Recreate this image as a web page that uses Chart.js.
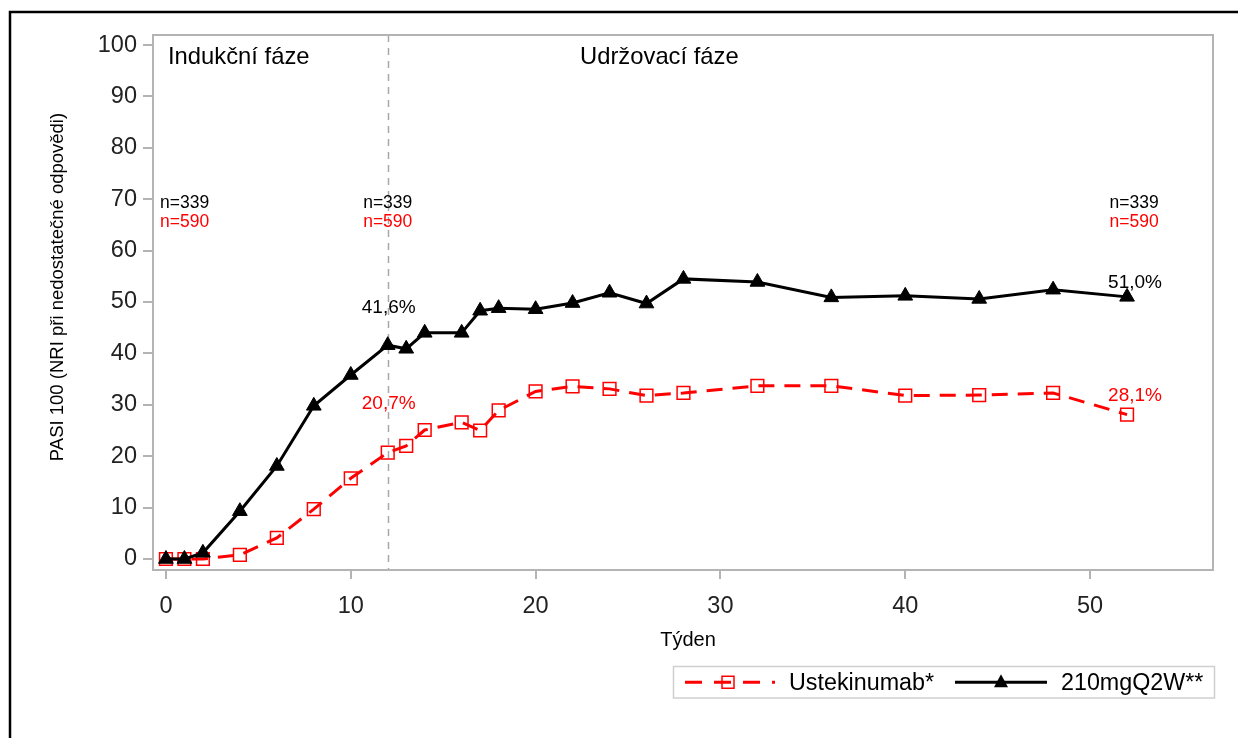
<!DOCTYPE html>
<html>
<head>
<meta charset="utf-8">
<script src="https://cdn.jsdelivr.net/npm/chart.js@4"></script>
<style>
  html, body { margin: 0; padding: 0; background: #fff; }
  canvas { display: block; }
</style>
</head>
<body>
<canvas id="c" width="1238" height="738"></canvas>
<script>
// ---- data ----
const weeks = [0, 1, 2, 4, 6, 8, 10, 12, 13, 14, 16, 17, 18, 20, 22, 24, 26, 28, 32, 36, 40, 44, 48, 52];
const bimekizumab = [0, 0, 1.2, 9.3, 18.1, 29.8, 35.8, 41.6, 40.9, 44.0, 44.0, 48.3, 48.8, 48.6, 49.8, 51.8, 49.7, 54.5, 53.9, 50.9, 51.2, 50.6, 52.4, 51.0];
const ustekinumab = [0, 0, 0, 0.8, 4.1, 9.7, 15.7, 20.7, 22.0, 25.1, 26.6, 25.0, 28.9, 32.6, 33.6, 33.1, 31.8, 32.3, 33.7, 33.7, 31.8, 31.9, 32.3, 28.1];
const seriesNames = ['Ustekinumab*', '210mgQ2W**'];
const yTicks = [0, 10, 20, 30, 40, 50, 60, 70, 80, 90, 100];
const xTicks = [0, 10, 20, 30, 40, 50];
const phaseLabels = ['Indukční fáze', 'Udržovací fáze'];
const phaseBoundaryWeek = 12;
const nWeeks = [0, 12, 52];
const nBimek = ['n=339', 'n=339', 'n=339'];
const nUstek = ['n=590', 'n=590', 'n=590'];
const pctWeeks = [12, 52];
const pctBimek = ['41,6%', '51,0%'];
const pctUstek = ['20,7%', '28,1%'];
const xTitle = 'Týden';
const yTitle = 'PASI 100 (NRI při nedostatečné odpovědi)';

const RED = 'rgb(255,0,0)';
const GRAY = '#b4b4b4';
const FONT = "'Liberation Sans', Arial, sans-serif";

const toXY = (ys) => weeks.map((w, i) => ({ x: w, y: ys[i] }));

const overlay = {
  id: 'overlay',
  beforeDatasetsDraw(chart) {
    const { ctx, chartArea: a, scales: { x } } = chart;
    ctx.save();
    const px = Math.round(x.getPixelForValue(phaseBoundaryWeek)) + 0.5;
    ctx.strokeStyle = '#a8a8a8';
    ctx.lineWidth = 1.5;
    ctx.setLineDash([7, 6]);
    ctx.beginPath();
    ctx.moveTo(px, a.top);
    ctx.lineTo(px, a.bottom);
    ctx.stroke();
    ctx.restore();
  },
  afterDraw(chart) {
    const { ctx, chartArea: a, scales: { x, y } } = chart;
    ctx.save();
    // outer black frame
    ctx.strokeStyle = '#000';
    ctx.lineWidth = 2.5;
    ctx.strokeRect(10, 12, 1240, 760);
    // plot border
    ctx.strokeStyle = GRAY;
    ctx.lineWidth = 2;
    ctx.strokeRect(a.left, a.top, a.right - a.left, a.bottom - a.top);

    ctx.textBaseline = 'middle';
    // phase labels
    ctx.fillStyle = '#000';
    ctx.font = '23.8px ' + FONT;
    ctx.textAlign = 'left';
    ctx.fillText(phaseLabels[0], a.left + 15, 57);
    ctx.fillText(phaseLabels[1], 580, 57);

    // n labels
    ctx.font = '17.5px ' + FONT;
    nWeeks.forEach((w, i) => {
      let cx = x.getPixelForValue(w);
      if (i === 0) { ctx.textAlign = 'left'; cx = a.left + 7; }
      else { ctx.textAlign = 'center'; if (i === 2) cx += 7; }
      ctx.fillStyle = '#000';
      ctx.fillText(nBimek[i], cx, 203);
      ctx.fillStyle = RED;
      ctx.fillText(nUstek[i], cx, 222);
    });

    // percent labels
    ctx.font = '19px ' + FONT;
    ctx.textAlign = 'center';
    pctWeeks.forEach((w, i) => {
      const idx = weeks.indexOf(w);
      const cx = x.getPixelForValue(w) + (i === 1 ? 8 : 1);
      ctx.fillStyle = '#000';
      ctx.fillText(pctBimek[i], cx, y.getPixelForValue(bimekizumab[idx]) - (i === 0 ? 37 : 14));
      ctx.fillStyle = RED;
      ctx.fillText(pctUstek[i], cx, y.getPixelForValue(ustekinumab[idx]) - (i === 0 ? 49 : 19));
    });

    // axis titles
    ctx.fillStyle = '#000';
    ctx.font = '20px ' + FONT;
    ctx.textAlign = 'center';
    ctx.fillText(xTitle, 688, 640);
    ctx.save();
    ctx.translate(58, 287);
    ctx.rotate(-Math.PI / 2);
    ctx.font = '18.5px ' + FONT;
    ctx.fillText(yTitle, 0, 0);
    ctx.restore();

    // legend
    const lx = 673.5, ly = 666.5, lw = 541, lh = 31.5;
    ctx.strokeStyle = '#cfcfcf';
    ctx.lineWidth = 1.5;
    ctx.strokeRect(lx, ly, lw, lh);
    const cy = ly + lh / 2;
    ctx.strokeStyle = RED;
    ctx.lineWidth = 3;
    ctx.setLineDash([17, 12]);
    ctx.beginPath();
    ctx.moveTo(685, cy); ctx.lineTo(775, cy);
    ctx.stroke();
    ctx.setLineDash([]);
    ctx.lineWidth = 1.5;
    ctx.strokeRect(728 - 6, cy - 6, 12, 12);
    ctx.fillStyle = '#000';
    ctx.font = '23.3px ' + FONT;
    ctx.textAlign = 'left';
    ctx.fillText(seriesNames[0], 789, cy + 1);
    ctx.strokeStyle = '#000';
    ctx.lineWidth = 3;
    ctx.beginPath();
    ctx.moveTo(955, cy); ctx.lineTo(1047, cy);
    ctx.stroke();
    ctx.beginPath();
    ctx.moveTo(1001, cy - 8);
    ctx.lineTo(1008, cy + 5);
    ctx.lineTo(994, cy + 5);
    ctx.closePath();
    ctx.fill();
    ctx.fillText(seriesNames[1], 1061, cy + 1);
    ctx.restore();
  }
};

new Chart(document.getElementById('c'), {
  type: 'line',
  data: {
    datasets: [
      {
        label: seriesNames[1],
        data: toXY(bimekizumab),
        borderColor: '#000',
        backgroundColor: '#000',
        borderWidth: 3,
        pointStyle: 'triangle',
        pointRadius: 8.5,
        pointBorderWidth: 1,
        pointBackgroundColor: '#000',
        pointBorderColor: '#000',
        order: 0,
        tension: 0
      },
      {
        label: seriesNames[0],
        data: toXY(ustekinumab),
        borderColor: RED,
        borderWidth: 3,
        borderDash: [16, 10],
        pointStyle: 'rect',
        pointRadius: 9,
        pointBorderWidth: 1.5,
        pointBackgroundColor: 'rgba(0,0,0,0)',
        pointBorderColor: RED,
        order: 1,
        tension: 0
      }
    ]
  },
  options: {
    responsive: false,
    animation: false,
    devicePixelRatio: 1,
    layout: { padding: { left: 0, top: 35, right: 25, bottom: 0 } },
    plugins: { legend: { display: false }, tooltip: { enabled: false } },
    scales: {
      x: {
        type: 'linear',
        min: -0.7,
        max: 56.65,
        afterFit(s) { s.height = 168; },
        afterBuildTicks(s) { s.ticks = xTicks.map(v => ({ value: v })); },
        ticks: { includeBounds: false, autoSkip: false, maxRotation: 0, padding: 13, color: '#222', font: { family: FONT, size: 23.5 } },
        grid: { display: true, drawOnChartArea: false, drawTicks: true, tickLength: 9, color: GRAY, lineWidth: 2 },
        border: { display: false }
      },
      y: {
        min: -2.14,
        max: 101.95,
        afterFit(s) { s.width = 153; },
        afterBuildTicks(s) { s.ticks = yTicks.map(v => ({ value: v })); },
        ticks: { includeBounds: false, autoSkip: false, padding: 6, color: '#222', font: { family: FONT, size: 23.5 } },
        grid: { display: true, drawOnChartArea: false, drawTicks: true, tickLength: 10, color: GRAY, lineWidth: 2 },
        border: { display: false }
      }
    }
  },
  plugins: [overlay]
});
</script>
</body>
</html>
